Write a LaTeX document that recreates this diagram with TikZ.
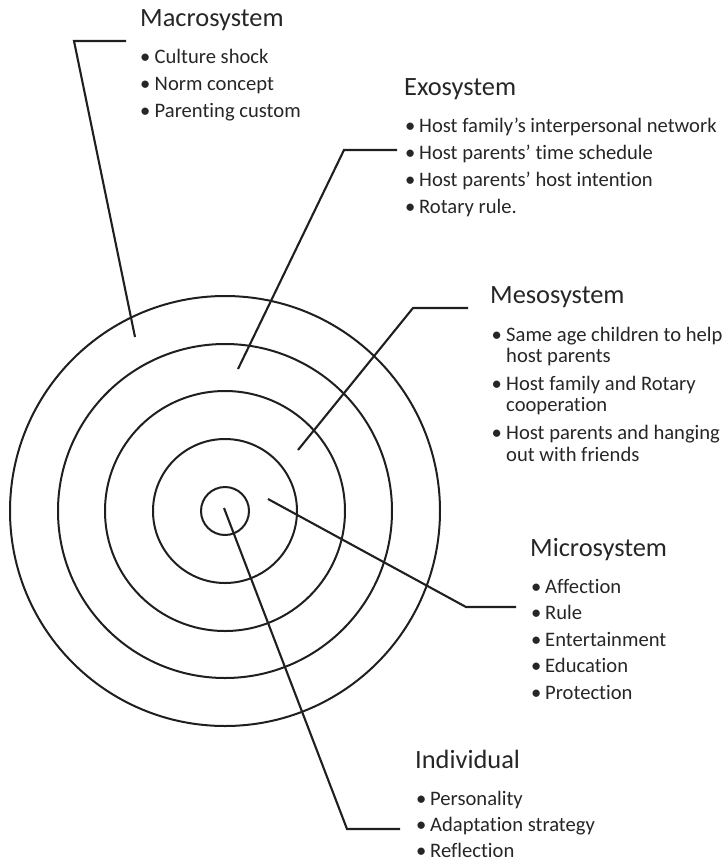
\documentclass[tikz,border=0pt]{standalone}
\usepackage{fontspec}
\setmainfont{Carlito}[RawFeature={-liga;-clig;-calt;-dlig}]
\begin{document}
\begin{tikzpicture}[x=1pt,y=-1pt,
  ink/.style={line width=2.1pt, draw=black!88},
  ring/.style={line width=2pt, draw=black!88},
  ttl/.style={anchor=base west, inner sep=0pt, text=black!85, font=\fontsize{26.4}{30}\selectfont},
  itm/.style={anchor=base west, inner sep=0pt, text=black!85, font=\fontsize{20.6}{24}\selectfont},
  bul/.style={anchor=base west, inner sep=0pt, text=black!85, font=\fontsize{20.6}{24}\selectfont}]
\useasboundingbox (0,0) rectangle (728,863);
% rings
\coordinate (c) at (225,511);
\foreach \r/\n in {24/r1,72/r2,120/r3,167/r4,215/r5}
  \draw[ring] (c) circle[radius=\r];
% Macrosystem
\node[ttl] (macT) at (140,26) {Macrosystem};
\node[bul] (macB1) at (140,63) {•}; \node[itm] (mac1) at (154.5,63) {Culture shock};
\node[bul] (macB2) at (140,90) {•}; \node[itm] (mac2) at (154.5,90) {Norm concept};
\node[bul] (macB3) at (140,117) {•}; \node[itm] (mac3) at (154.5,117) {Parenting custom};
% Exosystem
\node[ttl] (exoT) at (404,95) {Exosystem};
\node[bul] (exoB1) at (405,132) {•}; \node[itm] (exo1) at (419,132) {Host family’s interpersonal network};
\node[bul] (exoB2) at (405,159) {•}; \node[itm] (exo2) at (419,159) {Host parents’ time schedule};
\node[bul] (exoB3) at (405,186) {•}; \node[itm] (exo3) at (419,186) {Host parents’ host intention};
\node[bul] (exoB4) at (405,213) {•}; \node[itm] (exo4) at (419,213) {Rotary rule.};
% Mesosystem
\node[ttl] (mesT) at (490,303) {Mesosystem};
\node[bul] (mesB1) at (491.5,341) {•}; \node[itm] (mes1a) at (506,341) {Same age children to help};
\node[itm] (mes1b) at (506,362) {host parents};
\node[bul] (mesB2) at (491.5,390) {•}; \node[itm] (mes2a) at (506,390) {Host family and Rotary};
\node[itm] (mes2b) at (506,411.5) {cooperation};
\node[bul] (mesB3) at (491.5,439) {•}; \node[itm] (mes3a) at (506,439) {Host parents and hanging};
\node[itm] (mes3b) at (506,461) {out with friends};
% Microsystem
\node[ttl] (micT) at (530,556.5) {Microsystem};
\node[bul] (micB1) at (531,593) {•}; \node[itm] (mic1) at (545,593) {Affection};
\node[bul] (micB2) at (531,619.5) {•}; \node[itm] (mic2) at (545,619.5) {Rule};
\node[bul] (micB3) at (531,646) {•}; \node[itm] (mic3) at (545,646) {Entertainment};
\node[bul] (micB4) at (531,672.5) {•}; \node[itm] (mic4) at (545,672.5) {Education};
\node[bul] (micB5) at (531,699) {•}; \node[itm] (mic5) at (545,699) {Protection};
% Individual
\node[ttl] (indT) at (415,768) {Individual};
\node[bul] (indB1) at (416,805) {•}; \node[itm] (ind1) at (430,805) {Personality};
\node[bul] (indB2) at (416,831.5) {•}; \node[itm] (ind2) at (430,831.5) {Adaptation strategy};
\node[bul] (indB3) at (416,857.5) {•}; \node[itm] (ind3) at (430,857.5) {Reflection};
% leader lines
\coordinate (macE) at (126,41); \coordinate (macK) at (74,41); \coordinate (macP) at (135,337);
\coordinate (exoE) at (397,150); \coordinate (exoK) at (344,150); \coordinate (exoP) at (238,369);
\coordinate (mesE) at (468,308); \coordinate (mesK) at (413,308); \coordinate (mesP) at (298,450);
\coordinate (micE) at (516,607); \coordinate (micK) at (466,607); \coordinate (micP) at (268,499);
\coordinate (indE) at (400,829); \coordinate (indK) at (347,829); \coordinate (indP) at (224,508);
\draw[ink] (macE) -- (macK) -- (macP);
\draw[ink] (exoE) -- (exoK) -- (exoP);
\draw[ink] (mesE) -- (mesK) -- (mesP);
\draw[ink] (micP) -- (micK) -- (micE);
\draw[ink] (indP) -- (indK) -- (indE);
\end{tikzpicture}
\end{document}
